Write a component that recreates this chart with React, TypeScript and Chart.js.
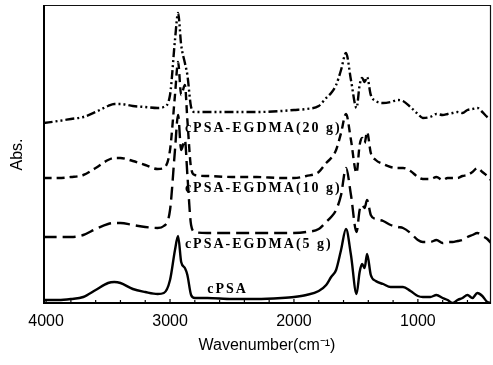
import React, { useEffect, useRef } from "react";
import { Chart, registerables } from "chart.js";

Chart.register(...registerables);

// Wavenumber grid (cm^-1)
const wavenumbers = [
  4020, 3900, 3800, 3700, 3600, 3500, 3450, 3400, 3300, 3200, 3100, 3050, 3000, 2960, 2935, 2910,
  2880, 2860, 2830, 2800, 2700, 2500, 2300, 2100, 2000, 1900, 1800, 1740, 1700, 1660, 1620, 1580,
  1540, 1495, 1470, 1450, 1430, 1410, 1380, 1340, 1280, 1220, 1160, 1120, 1060, 1000, 960, 900,
  850, 800, 760, 720, 680, 640, 600, 560, 520, 480, 440, 410,
];

// Absorbance (arbitrary units, curves stacked with offsets)
const cPSA = [
  4, 4, 5, 7, 14, 21, 22, 21, 15, 12, 10, 11, 24, 54, 68, 42,
  36, 29, 9, 6, 6, 5, 5, 6, 7, 9, 13, 19, 27, 34, 54, 75,
  49, 10, 32, 40, 36, 50, 29, 23, 20, 17, 17, 17, 13, 8, 7, 7,
  9, 6, 4, 1, 4, 6, 9, 6, 11, 8, 2, 1,
];
const egdma5 = [
  67, 67, 67, 69, 75, 80, 81, 81, 79, 77, 76, 78, 94, 154, 189, 154,
  164, 129, 79, 72, 71, 71, 71, 71, 71, 72, 75, 82, 87, 94, 109, 136,
  109, 72, 94, 99, 96, 104, 89, 85, 83, 79, 77, 76, 71, 64, 62, 62,
  64, 61, 62, 62, 63, 64, 67, 69, 71, 68, 65, 61,
];
const egdma10 = [
  126, 126, 127, 129, 136, 144, 146, 146, 143, 139, 135, 136, 154, 209, 242, 209,
  219, 184, 136, 129, 128, 127, 127, 126, 126, 128, 132, 141, 146, 154, 171, 190,
  164, 131, 159, 166, 161, 172, 151, 144, 140, 137, 136, 136, 133, 127, 125, 125,
  127, 124, 126, 126, 126, 128, 129, 132, 136, 132, 128, 124,
];
const egdma20 = [
  181, 183, 185, 187, 192, 198, 200, 200, 198, 197, 196, 197, 209, 264, 291, 259,
  241, 229, 197, 192, 192, 192, 192, 193, 194, 195, 198, 206, 211, 219, 234, 251,
  224, 196, 219, 226, 222, 227, 209, 203, 201, 202, 204, 203, 197, 190, 186, 187,
  190, 189, 190, 191, 192, 191, 194, 195, 196, 192, 187, 185,
];

const seriesNames = ["cPSA", "cPSA-EGDMA(5 g)", "cPSA-EGDMA(10 g)", "cPSA-EGDMA(20 g)"];
const seriesValues = [cPSA, egdma5, egdma10, egdma20];
const seriesDashes = [[], [13, 6], [8, 5], [9, 3, 2, 3, 2, 3]];

// In-plot text labels, anchored in data coordinates
const labelWavenumbers = [2700, 2880, 2880, 2880];
const labelValues = [15, 60, 116, 176];

const xTickValues = [4000, 3000, 2000, 1000];
const xMinorTickValues = [3800, 3600, 3400, 3200, 2800, 2600, 2400, 2200, 1800, 1600, 1400, 1200, 800, 600];

const overlayPlugin = {
  id: "overlay",
  afterDatasetsDraw(chart: any) {
    const { ctx, chartArea: a, scales } = chart;
    const x = scales.x;
    const y = scales.y;
    ctx.save();
    ctx.strokeStyle = "#111";
    ctx.lineWidth = 1.2;
    ctx.beginPath();
    ctx.moveTo(a.left, a.top + 0.5);
    ctx.lineTo(a.right - 0.5, a.top + 0.5);
    ctx.lineTo(a.right - 0.5, a.bottom);
    ctx.stroke();
    ctx.strokeStyle = "#000";
    ctx.lineWidth = 2;
    ctx.beginPath();
    ctx.moveTo(a.left + 1, a.top);
    ctx.lineTo(a.left + 1, a.bottom - 1);
    ctx.lineTo(a.right, a.bottom - 1);
    ctx.stroke();
    ctx.lineWidth = 1.2;
    const drawTick = (v: number, len: number) => {
      const px = x.getPixelForValue(v);
      ctx.beginPath();
      ctx.moveTo(px, a.bottom - 1);
      ctx.lineTo(px, a.bottom - 1 - len);
      ctx.stroke();
    };
    xTickValues.forEach((v) => drawTick(v, 4));
    xMinorTickValues.forEach((v) => drawTick(v, 3));

    ctx.fillStyle = "#000";
    ctx.font = "bold 14px 'Liberation Serif'";
    (ctx as any).letterSpacing = "2px";
    ctx.textBaseline = "middle";
    ctx.textAlign = "left";
    seriesNames.forEach((name, i) => {
      ctx.fillText(name, x.getPixelForValue(labelWavenumbers[i]), y.getPixelForValue(labelValues[i]));
    });
    ctx.restore();
  },
};

export default function App() {
  const canvasRef = useRef<HTMLCanvasElement | null>(null);

  useEffect(() => {
    if (!canvasRef.current) return;
    const chart = new Chart(canvasRef.current, {
      type: "line",
      data: {
        datasets: seriesValues.map((vals, i) => ({
          label: seriesNames[i],
          data: wavenumbers.map((w, j) => ({ x: w, y: vals[j] })),
          borderColor: "#000",
          borderWidth: 2.4,
          borderDash: seriesDashes[i],
          pointRadius: 0,
          fill: false,
          cubicInterpolationMode: "monotone" as const,
        })),
      },
      options: {
        responsive: false,
        animation: false,
        layout: { padding: { top: 5, right: 2, left: 0, bottom: 0 } },
        plugins: { legend: { display: false }, tooltip: { enabled: false } },
        scales: {
          x: {
            type: "linear",
            reverse: true,
            min: 410,
            max: 4025,
            afterBuildTicks: (s: any) => {
              s.ticks = xTickValues.map((v) => ({ value: v }));
            },
            afterFit: (s: any) => {
              s.height = 61;
            },
            grid: { display: false, drawTicks: false },
            border: { display: false },
            ticks: {
              color: "#000",
              font: { family: "'Liberation Sans', Arial", size: 16 },
              padding: 8,
              maxRotation: 0,
              autoSkip: false,
              callback: (v: any) => String(v),
            },
            title: {
              display: true,
              text: "Wavenumber(cm⁻¹)",
              color: "#000",
              font: { family: "'Liberation Sans', Arial", size: 16 },
              padding: { top: 0, bottom: 10 },
            },
          },
          y: {
            min: 0,
            max: 299,
            afterFit: (s: any) => {
              s.width = 43;
            },
            grid: { display: false, drawTicks: false },
            border: { display: false },
            ticks: { display: false },
            title: {
              display: true,
              text: "Abs.",
              color: "#000",
              font: { family: "'Liberation Sans', Arial", size: 16 },
              padding: { top: 8, bottom: 0 },
            },
          },
        },
      },
      plugins: [overlayPlugin],
    });
    return () => chart.destroy();
  }, []);

  return (
    <div style={{ position: "absolute", left: 0, top: 0, width: 493, height: 365, background: "#fff" }}>
      <canvas ref={canvasRef} width={493} height={365} style={{ display: "block" }} />
    </div>
  );
}
